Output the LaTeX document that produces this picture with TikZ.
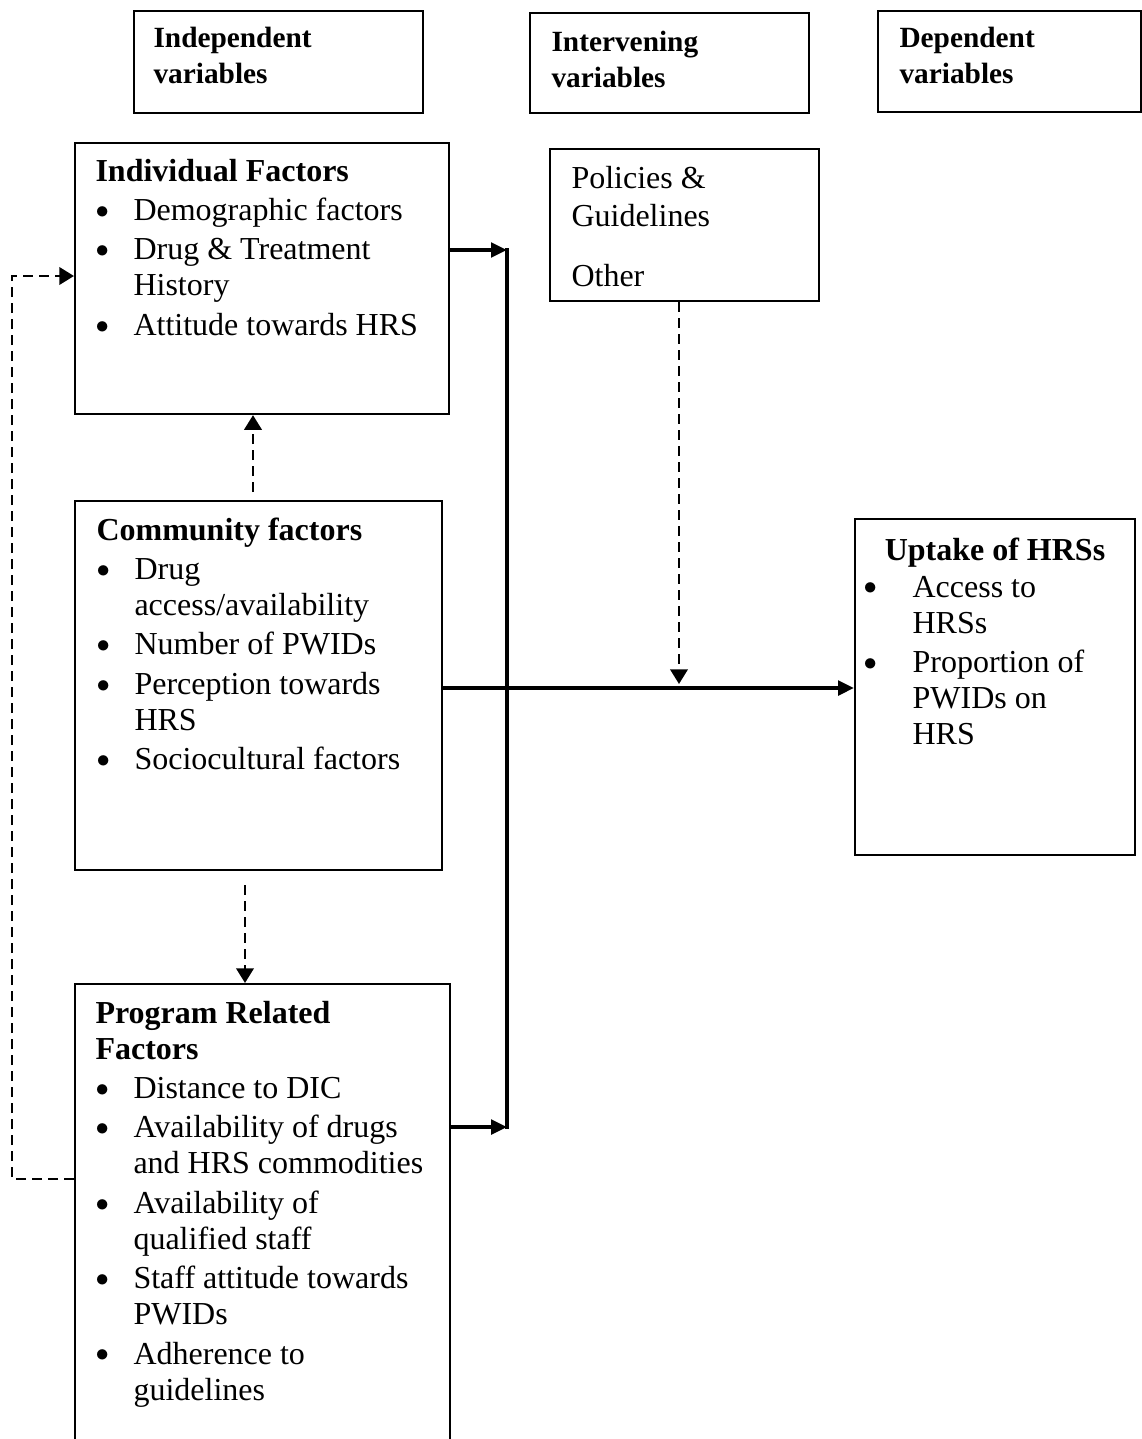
\documentclass[tikz,border=0pt]{standalone}
\usepackage{fontspec}
\setmainfont{Liberation Serif}
\usetikzlibrary{arrows.meta}

\newcommand{\bul}{\raisebox{0.9pt}{\fontsize{10}{10}\selectfont$\bullet$}}
\newcommand{\itm}{\bul &}

\begin{document}
\begin{tikzpicture}[x=0.375pt,y=-0.375pt,
  box/.style n args={2}{draw,line width=0.8pt,anchor=north west,inner sep=0pt,
    minimum width=#1*0.375pt,minimum height=#2*0.375pt},
  txt/.style={anchor=base west,inner sep=0pt,font=\fontsize{12}{13.5}\selectfont},
  head/.style={anchor=base west,inner sep=0pt,font=\fontsize{11}{13.5}\selectfont\bfseries},
  arr/.style={-{Triangle[length=6pt,width=5.5pt]},line width=1.3pt},
  darr/.style={-{Triangle[length=5.5pt,width=6.5pt]},line width=1pt,dash pattern=on 3.75pt off 2.25pt}]
\useasboundingbox (0,0) rectangle (1141,1439);
%headings
\node[box={289}{102}] (indep) at (133,10) {};
\node[head] (indepT) at (153,47) {\begin{tabular}[t]{@{}l@{}}Independent\\variables\end{tabular}};
\node[box={279}{100}] (interv) at (529,12) {};
\node[head] (intervT) at (551,51) {\begin{tabular}[t]{@{}l@{}}Intervening\\variables\end{tabular}};
\node[box={262.5}{101}] (dep) at (877,10) {};
\node[head] (depT) at (899,47) {\begin{tabular}[t]{@{}l@{}}Dependent\\variables\end{tabular}};
%independent
\node[box={374}{271}] (ind) at (74,142) {};
\node[txt] (indT) at (95,181) {\begin{tabular}[t]{@{}p{14.25pt}@{}l@{}}
\multicolumn{2}{@{}l@{}}{\textbf{Individual Factors}}\\[1.3pt]
\itm Demographic factors\\[1.3pt]
\itm Drug \& Treatment\\
 & History\\[1.3pt]
\itm Attitude towards HRS
\end{tabular}};
\node[box={367}{369}] (comm) at (74,500) {};
\node[txt] (commT) at (96,540) {\begin{tabular}[t]{@{}p{14.25pt}@{}l@{}}
\multicolumn{2}{@{}l@{}}{\textbf{Community factors}}\\[1.3pt]
\itm Drug\\
 & access/availability\\[1.3pt]
\itm Number of PWIDs\\[1.3pt]
\itm Perception towards\\
 & HRS\\[1.3pt]
\itm Sociocultural factors
\end{tabular}};
\node[box={375}{480}] (prog) at (74,983) {};
\node[txt] (progT) at (95,1023) {\begin{tabular}[t]{@{}p{14.25pt}@{}l@{}}
\multicolumn{2}{@{}l@{}}{\textbf{Program Related}}\\
\multicolumn{2}{@{}l@{}}{\textbf{Factors}}\\[1.3pt]
\itm Distance to DIC\\[1.3pt]
\itm Availability of drugs\\
 & and HRS commodities\\[1.3pt]
\itm Availability of\\
 & qualified staff\\[1.3pt]
\itm Staff attitude towards\\
 & PWIDs\\[1.3pt]
\itm Adherence to\\
 & guidelines
\end{tabular}};
%intervening
\node[box={269}{152}] (pol) at (549,148) {};
\node[txt] (polT) at (571,188) {\begin{tabular}[t]{@{}l@{}}Policies \&\\[1.1pt]Guidelines\\[9pt]Other\end{tabular}};
%dependent
\node[box={280}{336}] (upt) at (854,518) {};
\node[txt,anchor=base] (uptH) at (995,560) {\textbf{Uptake of HRSs}};
\node[txt] (uptT) at (863,597) {\begin{tabular}[t]{@{}p{18.4pt}@{}l@{}}
\itm Access to\\
 & HRSs\\[1.3pt]
\itm Proportion of\\
 & PWIDs on\\
 & HRS
\end{tabular}};
%links
\coordinate (jt) at (507,250);
\coordinate (jb) at (507,1127);
\coordinate (mid) at (679,688);
\coordinate (up) at (253,0);
\coordinate (dn) at (245,0);
\coordinate (lb) at (12,1179);
\coordinate (lt) at (12,276);
\draw[arr] (ind.east |- jt) -- (jt);
\draw[arr] (prog.east |- jb) -- (jb);
\draw[line width=1.3pt] ([yshift=0.6pt]jt) -- ([yshift=-0.6pt]jb);
\draw[arr] (comm.east |- mid) -- (upt.west |- mid);
\draw[darr,shorten >=1.5pt] (pol.south -| mid) -- (mid);
\draw[darr,shorten <=3pt] (comm.north -| up) -- (ind.south -| up);
\draw[darr,shorten <=5.25pt] (comm.south -| dn) -- (prog.north -| dn);
\draw[darr] (prog.west |- lb) -- (lb) -- (lt) -- (ind.west |- lt);
\end{tikzpicture}
\end{document}
